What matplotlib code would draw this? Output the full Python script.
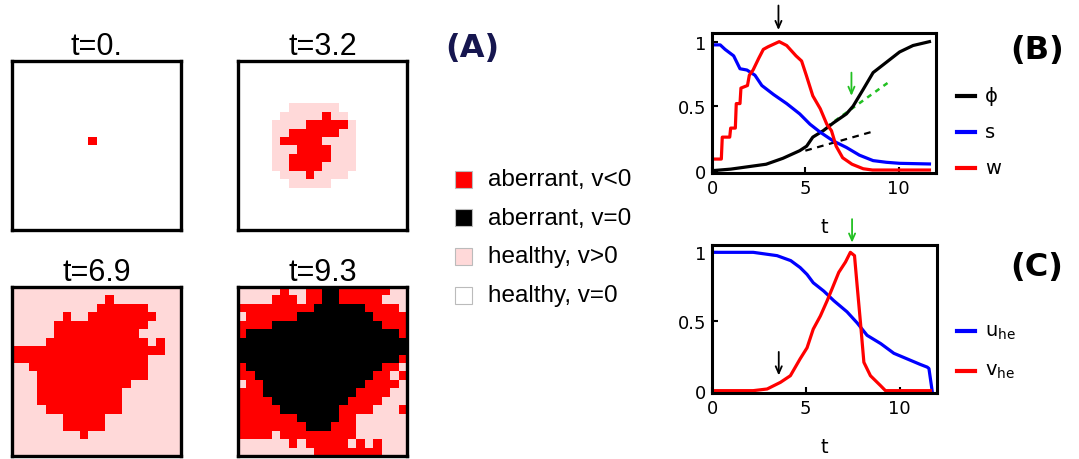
import matplotlib
matplotlib.use("Agg")
import numpy as np
import matplotlib.pyplot as plt
from matplotlib.colors import ListedColormap
from matplotlib.lines import Line2D
from matplotlib.patches import Rectangle

plt.rcParams['mathtext.default'] = 'regular'

W, H = 1079, 460
RED = "#ff0000"; BLUE = "#0000ff"; GREEN = "#22c022"; PINK = "#ffd9d9"; NAVY = "#16164f"

# ---- lattice snapshots (20x20): . healthy v=0, p healthy v>0, r aberrant v<0, k aberrant v=0
snap_times = ["t=0.", "t=3.2", "t=6.9", "t=9.3"]
grid_t0 = ["...................."] * 9 + [".........r.........."] + ["...................."] * 10
grid_t32 = (["...................."] * 5 + [
    "......pppppp........",
    ".....pppppbpp.......".replace("b", "r"),
    "....pppprrrrrp......",
    "....pprrrrrrpp......",
    "....prrrrrpppp......",
    "....ppprrrrppp......",
    "....pprrrrrppp......",
    "....pprrrrpppp......",
    ".....ppprpppp.......",
    "......ppppp.........",
] + ["...................."] * 5)
grid_t69 = [
    "pppppppppppppppppppp",
    "pppppppppppprppppppp"[1:] + "p",
    "pppppppppprrrrrrpppp",
    "pppppprpprrrrrrrrppp",
    "ppppprrrrrrrrrrrpppp",
    "ppppprrrrrrrrrrppppp",
    "pppprrrrrrrrrrrrprpp",
    "rrrrrrrrrrrrrrrrrrpp",
    "rrrrrrrrrrrrrrrrpppp",
    "pprrrrrrrrrrrrrrpppp",
    "ppprrrrrrrrrrrrrpppp",
    "ppprrrrrrrrrrrpppppp",
    "ppprrrrrrrrrrppppppp",
    "ppprrrrrrrrrrppppppp",
    "pppprrrrrrrrrppppppp",
    "pppppprrrrrppppppppp",
    "pppppprrrrrppppppppp",
    "pppppppprppppppppppp",
    "pppppppppppppppppppp",
    "pppppppppppppppppppp",
]
grid_t93 = [
    "ppppprpprrkkrrrrrrpp",
    "pppprrrprrkkrrrrrppp",
    "rrrrrrrrrkkkkkkrrrrp",
    "prrrrrrkkkkkkkkkrrrr",
    "rrrrkkkkkkkkkkkkkrrr",
    "rkkkkkkkkkkkkkkkkkkr",
    "kkkkkkkkkkkkkkkkkkkk",
    "kkkkkkkkkkkkkkkkkkkk",
    "kkkkkkkkkkkkkkkkkkkr",
    "rkkkkkkkkkkkkkkkkrrp",
    "rrkkkkkkkkkkkkkkrrpr",
    "prrkkkkkkkkkkkkrrrrp",
    "rrrkkkkkkkkkkkrrrrpp",
    "rrrrkkkkkkkkkrrrrppp",
    "rrrrrkkkkkkkrrrrpppr",
    "rrrrrrrkkkkkrrpppppp",
    "rrrrrrrrkkkrrrpppppp",
    "rrrrprrrrrrrrrpppppp",
    "pppppprprrrrrprprppp",
    "ppppppppprrrrrrrrppp",
]
snapshots = [grid_t0, grid_t32, grid_t69, grid_t93]
states = [".", "p", "r", "k"]
state_labels = ["aberrant, v<0", "aberrant, v=0", "healthy, v>0", "healthy, v=0"]
state_colors = [RED, "black", PINK, "white"]

# ---- panel B: order parameter phi, s, w versus t
tB_phi = [0, 1.0, 1.7, 2.9, 3.8, 4.7, 5.07, 5.4, 5.96, 6.5, 7.2, 7.56, 8.1, 8.63, 9.34, 10.05, 10.77, 11.65]
phi = [0, 0.012, 0.026, 0.05, 0.096, 0.155, 0.19, 0.26, 0.31, 0.37, 0.44, 0.5, 0.63, 0.76, 0.84, 0.92, 0.97, 1.0]
tB_s = [0, 0.44, 0.7, 1.16, 1.5, 1.87, 2.3, 2.67, 3.3, 4.0, 4.7, 5.25, 5.78, 6.5, 7.2, 7.9, 8.63, 9.34, 10.05, 11.65]
s = [0.975, 0.975, 0.94, 0.89, 0.79, 0.78, 0.74, 0.66, 0.59, 0.52, 0.44, 0.36, 0.30, 0.23, 0.18, 0.12, 0.078, 0.065, 0.057, 0.052]
tB_w = [0, 0.5, 0.55, 0.95, 1.0, 1.25, 1.3, 1.5, 1.55, 1.9, 2.0, 2.2, 2.5, 2.75, 3.0, 3.3, 3.6, 4.0, 4.5,
        4.8, 5.05, 5.4, 5.8, 6.15, 6.4, 6.65, 7.0, 7.5, 8.1, 8.6, 11.65]
w = [0.09, 0.09, 0.26, 0.26, 0.33, 0.33, 0.52, 0.52, 0.64, 0.66, 0.74, 0.78, 0.87, 0.94, 0.96, 0.98, 1.0, 0.97, 0.89,
     0.85, 0.74, 0.58, 0.48, 0.36, 0.31, 0.19, 0.10, 0.05, 0.015, 0.005, 0.005]
fit_slow_t = [5.0, 8.54]; fit_slow = [0.155, 0.30]
fit_fast_t = [6.14, 9.6]; fit_fast = [0.34, 0.70]

# ---- panel C: u_he, v_he versus t
tC_u = [0, 2.2, 3.47, 4.2, 4.7, 5.07, 5.4, 5.96, 6.5, 7.2, 7.74, 8.27, 9.0, 9.7, 10.4, 11.1, 11.48, 11.57, 11.74]
u_he = [1.0, 1.0, 0.976, 0.94, 0.89, 0.84, 0.78, 0.72, 0.65, 0.57, 0.49, 0.40, 0.34, 0.27, 0.23, 0.19, 0.17, 0.16, 0.0]
tC_v = [0, 2.2, 2.94, 3.65, 4.18, 4.7, 5.07, 5.4, 5.78, 6.14, 6.4, 6.76, 7.12, 7.38, 7.6, 7.74, 7.92, 8.1, 8.45, 8.99, 9.25, 11.65]
v_he = [0, 0, 0.012, 0.06, 0.108, 0.23, 0.31, 0.445, 0.54, 0.65, 0.735, 0.855, 0.93, 1.0, 0.976, 0.76, 0.49, 0.205, 0.108, 0.036, 0.0, 0.0]

t_peak_w = 3.56
t_peak_v = 7.47


def box(x0, y0, x1, y1):
    return [x0 / W, 1 - y1 / H, (x1 - x0) / W, (y1 - y0) / H]


fig = plt.figure(figsize=(W / 100, H / 100), dpi=100)
fig.patch.set_facecolor("white")

# ---- (A) lattice panels
cmap = ListedColormap(["white", PINK, RED, "black"])
grid_boxes = [(12, 62, 181, 231), (238, 62, 407, 231), (12, 288, 181, 457), (238, 288, 407, 457)]
for title, grid, gb in zip(snap_times, snapshots, grid_boxes):
    ax = fig.add_axes(box(*gb))
    arr = np.array([[states.index(c) for c in row] for row in grid])
    ax.imshow(arr, cmap=cmap, vmin=0, vmax=3, interpolation="nearest", aspect="auto")
    ax.set_xticks([]); ax.set_yticks([])
    for sp in ax.spines.values():
        sp.set_linewidth(2.4)
    ax.set_title(title, fontsize=22, family="Liberation Sans", pad=5)

for i, (lab, col) in enumerate(zip(state_labels, state_colors)):
    yc = 180 + i * 38.7
    fig.add_artist(Rectangle((455 / W, 1 - (yc + 8.5) / H), 17 / W, 17 / H, transform=fig.transFigure,
                             fc=col, ec="#bbbbbb", lw=0.8))
    fig.text(488 / W, 1 - yc / H, lab, fontsize=17.5, family="Liberation Sans", va="center", ha="left")

fig.text(472 / W, 1 - 49 / H, "(A)", fontsize=23, fontweight="bold", color=NAVY, ha="center", va="center")
fig.text(1037 / W, 1 - 51 / H, "(B)", fontsize=23, fontweight="bold", ha="center", va="center")
fig.text(1037 / W, 1 - 268 / H, "(C)", fontsize=23, fontweight="bold", ha="center", va="center")


def style(ax, ylo, yhi):
    ax.set_xlim(0, 12); ax.set_ylim(ylo, yhi)
    ax.set_xticks([0, 5, 10]); ax.set_xticklabels(["0", "5", "10"])
    ax.set_yticks([0, 0.5, 1]); ax.set_yticklabels(["0", "0.5", "1"])
    ax.tick_params(direction="in", length=4, width=1.5, top=False, right=False, labelsize=13, pad=4)
    for sp in ax.spines.values():
        sp.set_linewidth(2.2)
    ax.set_xlabel("t", fontsize=14, labelpad=15)


def arrow(ax, t, y0, y1, col):
    ax.annotate("", xy=(t, y1), xytext=(t, y0), annotation_clip=False,
                arrowprops=dict(arrowstyle="->,head_length=0.5,head_width=0.22", color=col, lw=1.3,
                                shrinkA=0, shrinkB=0))


def legend(entries, y_list):
    for (lab, col), yc in zip(entries, y_list):
        fig.add_artist(Line2D([957 / W, 975 / W], [1 - yc / H] * 2, transform=fig.transFigure, color=col, lw=3))
        fig.text(985 / W, 1 - yc / H, lab, fontsize=14, va="center", ha="left")


# ---- (B)
axB = fig.add_axes(box(712, 34, 936, 174))
axB.plot(fit_slow_t, fit_slow, color="black", lw=1.6, ls=(0, (3, 2.5)))
axB.plot(fit_fast_t, fit_fast, color=GREEN, lw=1.8, ls=(0, (2, 2)))
axB.plot(tB_phi, phi, color="black", lw=2.3)
axB.plot(tB_s, s, color=BLUE, lw=2.3)
axB.plot(tB_w, w, color=RED, lw=2.3)
style(axB, -0.018, 1.067)
arrow(axB, t_peak_w, 1.28, 1.09, "black")
arrow(axB, t_peak_v, 0.76, 0.58, GREEN)
legend([("ϕ", "black"), ("s", BLUE), ("w", RED)], [97, 133, 169])

# ---- (C)
axC = fig.add_axes(box(712, 246, 937, 394))
axC.plot(tC_u, u_he, color=BLUE, lw=2.3)
axC.plot(tC_v, v_he, color=RED, lw=2.3)
style(axC, -0.017, 1.053)
arrow(axC, t_peak_v, 1.24, 1.07, GREEN)
arrow(axC, t_peak_w, 0.28, 0.11, "black")
legend([("$u_{he}$", BLUE), ("$v_{he}$", RED)], [332, 372])

fig.savefig("out.png", dpi=100, facecolor="white")
